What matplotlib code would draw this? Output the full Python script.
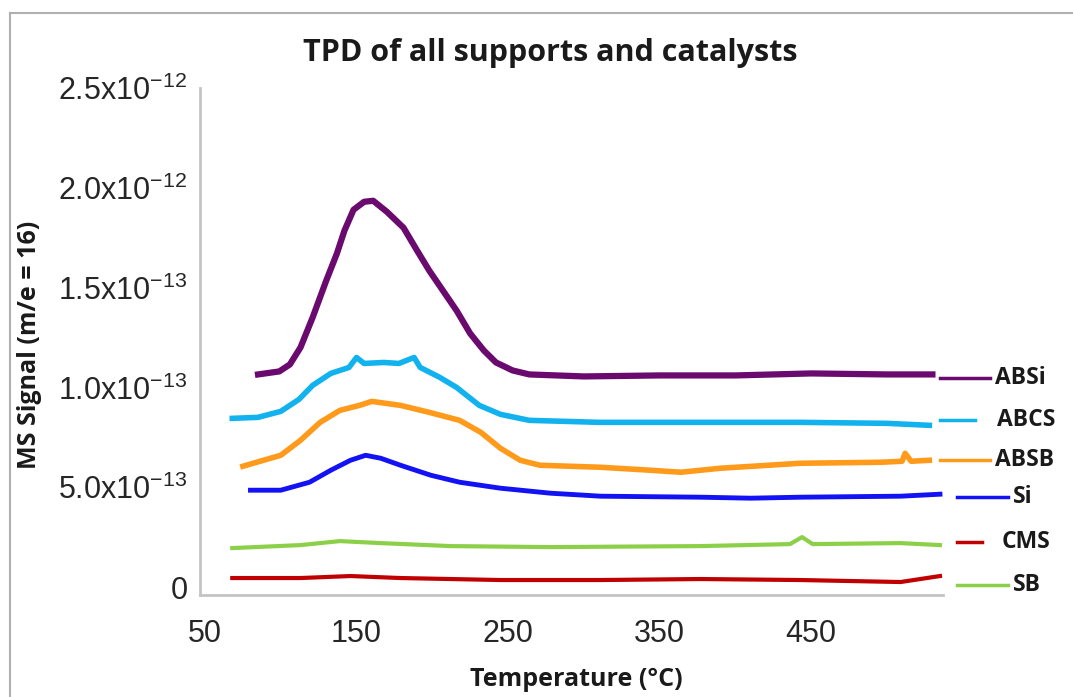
import matplotlib
matplotlib.use('Agg')
import matplotlib.pyplot as plt
from matplotlib.lines import Line2D

plt.rcParams['font.family'] = ['Liberation Sans', 'DejaVu Sans']
plt.rcParams['mathtext.default'] = 'regular'

# values in units of 1e-12, temperature in deg C
t_absi = [85, 99, 106, 113, 121, 130, 137, 142, 148, 155, 161, 170, 181, 190, 198, 207, 216, 225, 234, 242, 253, 264, 300, 350, 400, 450, 500, 530]
v_absi = [1.065, 1.08, 1.115, 1.20, 1.35, 1.535, 1.67, 1.785, 1.89, 1.93, 1.935, 1.88, 1.80, 1.685, 1.585, 1.485, 1.385, 1.27, 1.185, 1.125, 1.085, 1.065, 1.055, 1.06, 1.06, 1.07, 1.065, 1.065]

t_abcs = [68, 85, 100, 112, 121, 133, 145, 150, 155, 168, 178, 188, 192, 205, 216, 231, 245, 264, 310, 377, 443, 500, 528]
v_abcs = [0.845, 0.85, 0.88, 0.94, 1.01, 1.07, 1.10, 1.15, 1.12, 1.125, 1.12, 1.15, 1.10, 1.05, 1.0, 0.91, 0.865, 0.835, 0.825, 0.825, 0.825, 0.82, 0.81]

t_absb = [75, 100, 113, 126, 139, 152, 160, 179, 198, 218, 232, 245, 258, 271, 311, 344, 364, 390, 443, 496, 510, 512, 516, 528]
v_absb = [0.605, 0.66, 0.735, 0.825, 0.885, 0.91, 0.93, 0.91, 0.875, 0.835, 0.775, 0.695, 0.635, 0.61, 0.60, 0.585, 0.575, 0.595, 0.62, 0.625, 0.63, 0.67, 0.63, 0.635]

t_si = [80, 100, 119, 133, 146, 156, 166, 179, 199, 218, 245, 278, 311, 377, 410, 443, 509, 535]
v_si = [0.485, 0.485, 0.525, 0.585, 0.635, 0.66, 0.645, 0.61, 0.56, 0.525, 0.495, 0.47, 0.455, 0.45, 0.445, 0.45, 0.455, 0.465]

t_green = [68, 113, 139, 166, 212, 278, 377, 436, 444, 451, 509, 535]
v_green = [0.195, 0.21, 0.23, 0.22, 0.205, 0.20, 0.205, 0.215, 0.25, 0.215, 0.22, 0.21]

t_red = [68, 113, 146, 179, 245, 311, 377, 443, 509, 535]
v_red = [0.045, 0.045, 0.055, 0.045, 0.035, 0.035, 0.04, 0.035, 0.025, 0.055]

series = [
    (t_absi, v_absi, '#6a0a6e', 4.5),
    (t_abcs, v_abcs, '#12b2ee', 4.0),
    (t_absb, v_absb, '#ff9a1a', 4.0),
    (t_si, v_si, '#1212f5', 3.5),
    (t_green, v_green, '#8cd04a', 3.0),
    (t_red, v_red, '#c00000', 3.0),
]

leg_labels = ['ABSi', 'ABCS', 'ABSB', 'Si', 'CMS', 'SB']
leg_colors = ['#6a0a6e', '#12b2ee', '#ff9a1a', '#1212f5', '#c00000', '#8cd04a']

x_ticks = [50, 150, 250, 350, 450]
y_ticks = [0, 0.5, 1.0, 1.5, 2.0, 2.5]
y_ticklabels = ['0', '5.0x10$^{-13}$', '1.0x10$^{-13}$', '1.5x10$^{-13}$',
                '2.0x10$^{-12}$', '2.5x10$^{-12}$']

W, H = 1073, 697
fig = plt.figure(figsize=(W / 100, H / 100), dpi=100)
ax = fig.add_axes([200 / W, 1 - 595 / H, 743 / W, 507 / H])

for t, v, c, lw in series:
    ax.plot(t, v, color=c, lw=lw, solid_joinstyle='round')

ax.set_xlim(46.7, 537)
ax.set_ylim(-0.04, 2.5)
ax.set_xticks(x_ticks)
ax.set_yticks(y_ticks)
ax.set_yticklabels(y_ticklabels)
ax.tick_params(length=0, labelsize=22, colors='#262626')
ax.tick_params(axis='x', pad=17)
ax.tick_params(axis='y', pad=9)
for s in ['top', 'right']:
    ax.spines[s].set_visible(False)
for s in ['left', 'bottom']:
    ax.spines[s].set_color('#c4c4c4')
    ax.spines[s].set_linewidth(2)

lab_font = 'Open Sans'
# legend drawn by hand to the right of the plot
leg_y = [378, 420, 460, 497, 542, 585]
leg_x0 = [940, 940, 940, 957, 957, 957]
leg_x1 = [990, 975, 990, 1008, 982, 1008]
leg_tx = [995, 997, 995, 1013, 1002, 1013]
for lab, col, y, x0, x1, tx in zip(leg_labels, leg_colors, leg_y, leg_x0, leg_x1, leg_tx):
    fig.add_artist(Line2D([x0 / W, x1 / W], [1 - y / H, 1 - y / H], color=col, lw=2.5,
                          transform=fig.transFigure))
    fig.text(tx / W, 1 - y / H, lab, fontsize=16.5, fontweight='bold', family=lab_font,
             color='#1a1a1a', ha='left', va='center')

fig.text(550 / W, 1 - 61 / H, 'TPD of all supports and catalysts', fontsize=22,
         fontweight='bold', family=lab_font, color='#1a1a1a', ha='center', va='baseline')
fig.text(576 / W, 1 - 679 / H, 'Temperature (°C)', fontsize=18, fontweight='bold',
         family=lab_font, color='#1a1a1a', ha='center', va='center')
fig.text(30 / W, 1 - 345 / H, 'MS Signal (m/e = 16)', fontsize=18, fontweight='bold',
         family=lab_font, color='#1a1a1a', ha='center', va='center', rotation=90)

# outer frame visible on left and top
fig.add_artist(Line2D([10 / W, 10 / W], [0, 1 - 13 / H], color='#b0b0b0', lw=1.5,
                      transform=fig.transFigure))
fig.add_artist(Line2D([10 / W, 1], [1 - 13 / H, 1 - 13 / H], color='#b0b0b0', lw=1.5,
                      transform=fig.transFigure))

fig.savefig('out.png', dpi=100)
